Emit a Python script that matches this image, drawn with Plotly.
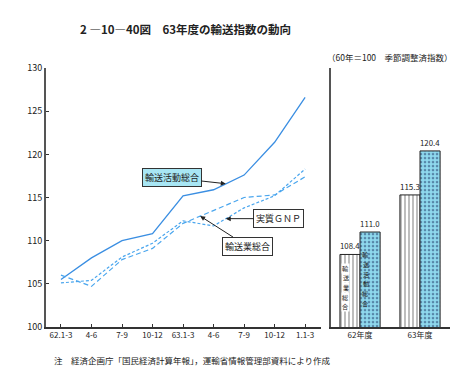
import plotly.graph_objects as go

# ---------------- data ----------------
quarters = ["62.1-3", "4-6", "7-9", "10-12", "63.1-3", "4-6", "7-9", "10-12", "1.1-3"]
katsudo = [105.5, 108.0, 110.0, 110.8, 115.2, 115.9, 117.6, 121.4, 126.6]   # 輸送活動総合
yusogyo = [106.0, 104.7, 107.8, 109.1, 112.0, 113.5, 115.0, 115.3, 117.4]   # 輸送業総合
gnp = [105.1, 105.4, 108.1, 109.7, 112.3, 111.7, 113.8, 115.2, 118.3]       # 実質GNP

years = ["62年度", "63年度"]
bar_yusogyo = [108.4, 115.3]
bar_katsudo = [111.0, 120.4]

yticks = [100, 105, 110, 115, 120, 125, 130]

W, H = 467, 379
FONT = "Noto Sans CJK JP"
AX = "#333333"

def px(x):
    return x / W

def py(y):
    return 1 - y / H

xs = list(range(len(quarters)))

fig = go.Figure()
fig.add_trace(go.Scatter(x=xs, y=katsudo, mode="lines", name="輸送活動総合",
                         line=dict(color="#3a8ee2", width=1.3), xaxis="x", yaxis="y"))
fig.add_trace(go.Scatter(x=xs, y=yusogyo, mode="lines", name="輸送業総合",
                         line=dict(color="#4aa6ee", width=1.2, dash="5px,3px"), xaxis="x", yaxis="y"))
fig.add_trace(go.Scatter(x=xs, y=gnp, mode="lines", name="実質GNP",
                         line=dict(color="#4aa6ee", width=1.2, dash="3px,2px"), xaxis="x", yaxis="y"))

fig.add_trace(go.Bar(x=years, y=bar_yusogyo, name="輸送業総合", xaxis="x2", yaxis="y2",
                     base=0,
                     marker=dict(color="white", line=dict(color="#222222", width=1),
                                 pattern=dict(shape="|", fgcolor="#222222", bgcolor="white",
                                              size=4, solidity=0.3)),
                     text=[f"{v:.1f}" for v in bar_yusogyo], textposition="outside",
                     textfont=dict(size=8, family=FONT, color="#222"), cliponaxis=False))
fig.add_trace(go.Bar(x=years, y=bar_katsudo, name="輸送活動総合", xaxis="x2", yaxis="y2",
                     base=0,
                     marker=dict(color="#8fd9ee", line=dict(color="#222222", width=1),
                                 pattern=dict(shape=".", fgcolor="#1d3563", bgcolor="#8fd9ee",
                                              size=4, solidity=0.35)),
                     text=[f"{v:.1f}" for v in bar_katsudo], textposition="outside",
                     textfont=dict(size=8, family=FONT, color="#222"), cliponaxis=False))

ydom = [py(323), py(55)]

fig.update_layout(
    width=W, height=H,
    margin=dict(l=0, r=0, t=0, b=0),
    paper_bgcolor="white", plot_bgcolor="white",
    showlegend=False,
    font=dict(family=FONT, size=9, color="#222"),
    barmode="group", bargap=0.33, bargroupgap=0,
    xaxis=dict(domain=[px(38), px(313)], range=[-0.49, 8.52],
               tickmode="array", tickvals=xs, ticktext=quarters,
               showline=True, linecolor=AX, linewidth=1.5, ticks="inside", ticklen=3,
               tickcolor=AX, showgrid=False, zeroline=False,
               tickfont=dict(size=8, family=FONT)),
    yaxis=dict(domain=ydom, range=[100, 130], tickmode="array", tickvals=yticks,
               showline=True, linecolor="#555", linewidth=2, ticks="inside", ticklen=3,
               tickcolor=AX, showgrid=False, zeroline=False,
               tickfont=dict(size=9, family=FONT)),
    xaxis2=dict(domain=[px(323), px(442)], range=[-0.484, 1.5], anchor="y2",
                showline=True, linecolor=AX, linewidth=1.5, ticks="", showgrid=False,
                zeroline=False, tickfont=dict(size=8, family=FONT)),
    yaxis2=dict(domain=ydom, range=[100, 130], anchor="x2",
                showline=True, linecolor="#555", linewidth=1.5, showticklabels=False,
                ticks="", showgrid=False, zeroline=False),
)

ann = []
# title
ann.append(dict(x=px(70), y=py(14), xref="paper", yref="paper", xanchor="left", yanchor="middle",
                text="<b>2 ―10―40図　63年度の輸送指数の動向</b>", showarrow=False,
                font=dict(size=11.5, family=FONT, color="#222")))
# unit note
ann.append(dict(x=px(447), y=py(43), xref="paper", yref="paper", xanchor="right", yanchor="middle",
                text="（60年＝100　季節調整済指数）", showarrow=False,
                font=dict(size=8.5, family=FONT, color="#222")))
# footnote
ann.append(dict(x=px(44), y=py(357), xref="paper", yref="paper", xanchor="left", yanchor="middle",
                text="注　経済企画庁「国民経済計算年報」，運輸省情報管理部資料により作成", showarrow=False,
                font=dict(size=8.5, family=FONT, color="#222")))

# line labels with arrows
ann.append(dict(x=5.4, y=116.6, xref="x", yref="y", text="輸送活動総合", showarrow=True,
                ax=-54, ay=-6, arrowhead=2, arrowsize=1, arrowwidth=1, arrowcolor="#222",
                bgcolor="#a8e6f4", bordercolor="#333", borderwidth=1, borderpad=2,
                font=dict(size=9, family=FONT, color="#222")))
ann.append(dict(x=5.4, y=112.55, xref="x", yref="y", text="実質ＧＮＰ", showarrow=True,
                ax=53, ay=0, arrowhead=2, arrowsize=1, arrowwidth=1, arrowcolor="#222",
                bgcolor="white", bordercolor="#333", borderwidth=1, borderpad=2,
                font=dict(size=9, family=FONT, color="#222")))
ann.append(dict(x=4.56, y=112.85, xref="x", yref="y", text="輸送業総合", showarrow=True,
                ax=47, ay=30, arrowhead=2, arrowsize=1, arrowwidth=1, arrowcolor="#222",
                bgcolor="white", bordercolor="#333", borderwidth=1, borderpad=2,
                font=dict(size=9, family=FONT, color="#222")))

# vertical text inside bars, one character per annotation
def vertical(text, xc, ytop, step, bg):
    for i, ch in enumerate(text):
        ann.append(dict(x=px(xc), y=py(ytop + i * step), xref="paper", yref="paper",
                        showarrow=False, text=ch, bgcolor=bg, borderpad=0,
                        font=dict(size=6.2, family=FONT, color="#222")))

vertical("輸送業総合", 342, 268, 10, "white")
vertical("輸送活動総合", 362, 254, 10, "rgba(0,0,0,0)")

fig.update_layout(annotations=ann)

fig.write_html("out.html")
